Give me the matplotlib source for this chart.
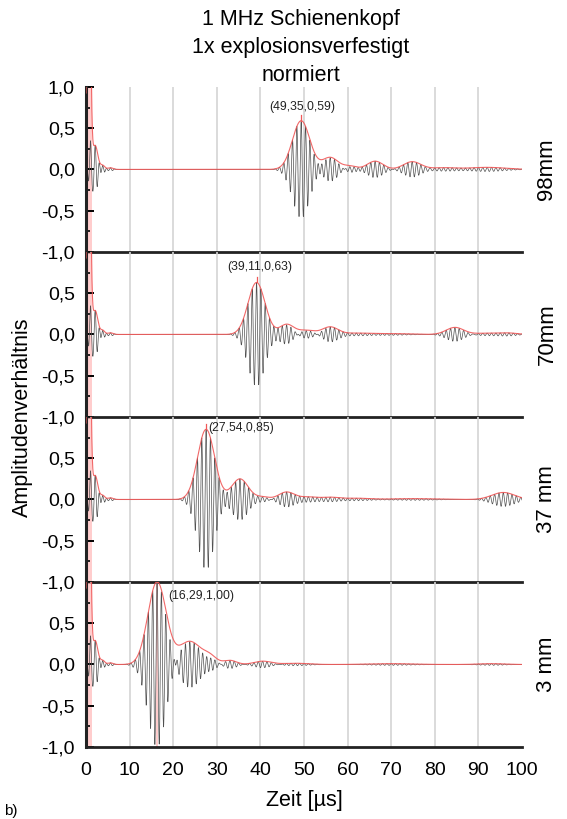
import numpy as np
import matplotlib
matplotlib.use("Agg")
import matplotlib.pyplot as plt
from matplotlib.ticker import MultipleLocator, FuncFormatter

plt.rcParams['font.family'] = ['Liberation Sans', 'DejaVu Sans']

# start pulse (over-range, red only) - same in every panel
pulse_t = [0.6]
pulse_a = [4.0]
pulse_w = [0.35]

# ringing after the start pulse: centre [µs], amplitude, width [µs]
ring_t = [1.0, 2.1, 3.8, 5.6]
ring_a = [0.30, 0.29, 0.05, 0.02]
ring_w = [0.35, 0.6, 0.5, 0.6]

labels = ["98mm", "70mm", "37 mm", "3 mm"]

# echo packets
p98_t = [49.35, 56.0, 60.5, 66.3, 74.8, 82.0, 92.0]
p98_a = [0.59, 0.145, 0.04, 0.10, 0.093, 0.02, 0.025]
p98_w = [2.0, 1.8, 1.5, 1.8, 2.0, 3.0, 4.0]

p70_t = [39.11, 46.0, 50.5, 56.0, 62.0, 70.0, 84.6, 92.0, 97.0]
p70_a = [0.63, 0.12, 0.05, 0.09, 0.015, 0.01, 0.085, 0.015, 0.015]
p70_w = [1.95, 1.6, 2.0, 1.8, 3.0, 4.0, 2.0, 3.0, 2.0]

p37_t = [27.54, 35.3, 40.5, 46.0, 51.0, 56.0, 62.0, 75.0, 95.7]
p37_a = [0.85, 0.25, 0.03, 0.09, 0.03, 0.025, 0.015, 0.01, 0.085]
p37_w = [1.95, 1.9, 1.5, 1.8, 2.0, 2.0, 3.0, 5.0, 2.6]

p3_t = [16.29, 23.8, 28.5, 33.0, 40.5, 48.0, 70.0, 93.0]
p3_a = [1.00, 0.28, 0.08, 0.05, 0.04, 0.015, 0.01, 0.01]
p3_w = [2.1, 2.6, 1.5, 1.5, 2.0, 3.0, 5.0, 3.0]

packets = [(p98_t, p98_a, p98_w), (p70_t, p70_a, p70_w),
           (p37_t, p37_a, p37_w), (p3_t, p3_a, p3_w)]

# peak labels
peak_t = [49.35, 39.11, 27.54, 16.29]
peak_a = [0.59, 0.63, 0.85, 1.00]

freq = 1.0  # MHz
t = np.arange(0, 100.005, 0.01)

# label placement (x, y, ha) per panel
ann_pos = [(49.5, 0.76, 'center'), (39.9, 0.82, 'center'),
           (28.0, 0.87, 'left'), (18.8, 0.83, 'left')]

fig = plt.figure(figsize=(5.67, 8.19), dpi=100)

left, width = 0.1517, 0.769
h = 0.2015
bottom0 = 0.0879
red = '#f05858'


def fmt(v, pos):
    s = "%.1f" % v
    if s == "-0.0":
        s = "0.0"
    return s.replace('.', ',')


def gauss(c, a, w):
    return a * np.exp(-0.5 * ((t - c) / w) ** 2)


for i in range(4):
    ax = fig.add_axes([left, bottom0 + (3 - i) * h, width, h])
    ct, ca, cw = packets[i]
    env = np.zeros_like(t)
    sig = np.zeros_like(t)
    for c, a, w in zip(pulse_t, pulse_a, pulse_w):
        env += gauss(c, a, w)
    for c, a, w in zip(ring_t + ct, ring_a + ca, ring_w + cw):
        g = gauss(c, a, w)
        env += g
        sig += g * np.cos(2 * np.pi * freq * (t - c))

    for gx in range(10, 100, 10):
        ax.axvline(gx, color='#d4d4d4', lw=1.2, zorder=0)
    ax.fill_between(t, -1.05, 1.05, where=env > 1, color='#ffb8b8',
                    alpha=0.7, lw=0, zorder=1)
    ax.plot(t, sig, color='#505050', lw=0.5, zorder=2)
    ax.plot(t, env, color=red, lw=0.8, alpha=0.9, zorder=3)

    pt, pa = peak_t[i], peak_a[i]
    ax.plot([pt, pt], [pa, pa + 0.07], color=red, lw=0.9, zorder=3)
    ax.text(ann_pos[i][0], ann_pos[i][1],
            ("(%.2f,%.2f)" % (pt, pa)).replace('.', ','),
            ha=ann_pos[i][2], va='center', fontsize=8.8, color='#222222')

    ax.set_xlim(0, 100)
    ax.set_ylim(-1, 1)
    ax.yaxis.set_major_locator(MultipleLocator(0.5))
    ax.yaxis.set_minor_locator(MultipleLocator(0.25))
    ax.yaxis.set_major_formatter(FuncFormatter(fmt))
    ax.tick_params(axis='y', which='major', direction='in', length=6,
                   width=1.4, labelsize=14, pad=8)
    ax.tick_params(axis='y', which='minor', direction='in', length=3,
                   width=1.2)
    if i > 0:
        ax.set_yticks([0.5, 0.0, -0.5, -1.0])
        ax.set_yticks([1.0, 0.75, 0.25, -0.25, -0.75], minor=True)

    ax.xaxis.set_major_locator(MultipleLocator(10))
    if i < 3:
        ax.tick_params(axis='x', which='both', bottom=False, labelbottom=False)
    else:
        ax.tick_params(axis='x', direction='in', length=0, labelsize=14, pad=11)

    for s in ['top', 'right']:
        ax.spines[s].set_visible(False)
    ax.spines['left'].set_linewidth(2.2)
    ax.spines['bottom'].set_linewidth(2.0)
    ax.spines['left'].set_color('#222222')
    ax.spines['bottom'].set_color('#222222')
    ax.patch.set_alpha(0)

    ax.text(1.057, 0.5, labels[i], transform=ax.transAxes, rotation=90,
            ha='center', va='center', fontsize=16)

fig.text(0.53, 0.9756, "1 MHz Schienenkopf", ha='center', va='center', fontsize=15.5)
fig.text(0.53, 0.9426, "1x explosionsverfestigt", ha='center', va='center', fontsize=15.5)
fig.text(0.53, 0.9084, "normiert", ha='center', va='center', fontsize=15.5)
fig.text(0.039, 0.49, "Amplitudenverhältnis", rotation=90, ha='center',
         va='center', fontsize=15.5)
fig.text(0.536, 0.023, "Zeit [µs]", ha='center', va='center', fontsize=15.5)
fig.text(0.008, 0.001, "b)", ha='left', va='bottom', fontsize=11)

fig.savefig("out.png", dpi=100)
